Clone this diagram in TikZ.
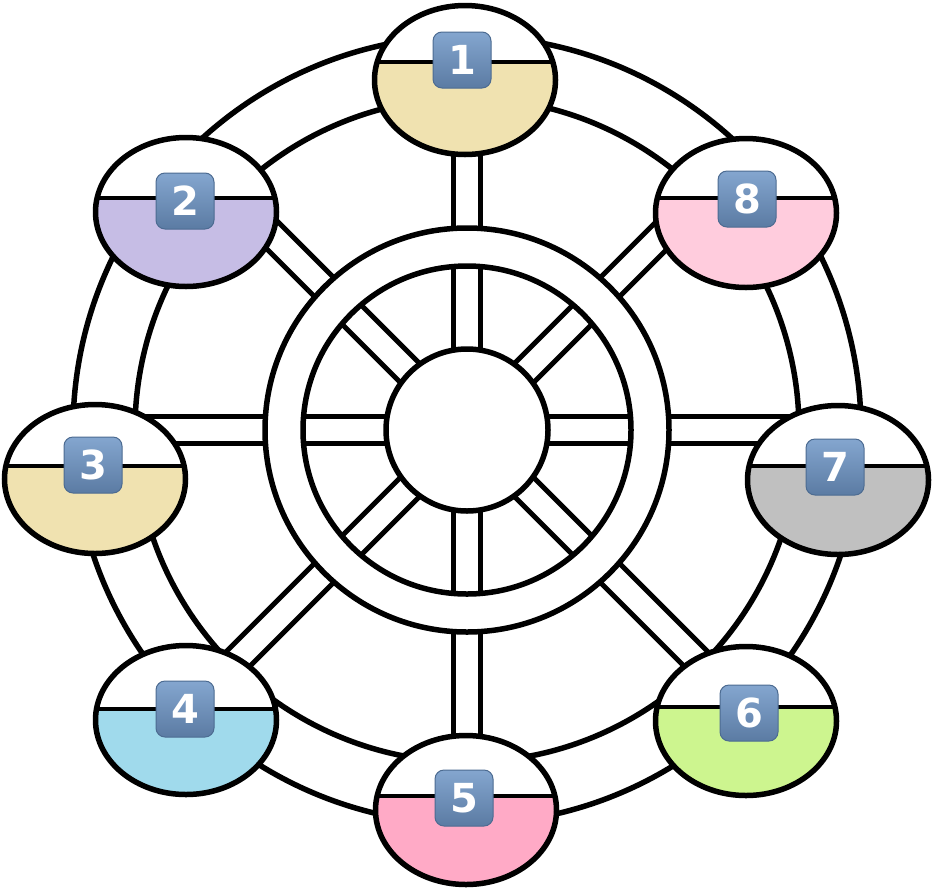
\documentclass[tikz,border=0pt]{standalone}
\usepackage{fontspec}
\setmainfont{DejaVu Sans}
\usetikzlibrary{shapes.geometric,calc}
\definecolor{cbeige}{HTML}{F0E2B0}
\definecolor{clav}{HTML}{C6BDE5}
\definecolor{cblue}{HTML}{A0DAEC}
\definecolor{cpink}{HTML}{FFAAC6}
\definecolor{cgreen}{HTML}{CDF58F}
\definecolor{cgray}{HTML}{C0C0C0}
\definecolor{clpink}{HTML}{FFCCDD}
\definecolor{btop}{HTML}{84A6CF}
\definecolor{bbot}{HTML}{5B7BA3}
\definecolor{bedge}{HTML}{4C6B91}
\tikzset{
  ringline/.style={line width=5.5pt},
  spokeline/.style={line width=5pt},
  cabin/.style 2 args={ellipse, draw, line width=5.5pt, fill=white,
    minimum width=181pt, minimum height=149pt, inner sep=0pt,
    path picture={
      \fill[#1] ($(path picture bounding box.center)+(-110,-#2)$) rectangle ($(path picture bounding box.center)+(110,110)$);
      \draw[line width=4.5pt] ($(path picture bounding box.center)+(-110,-#2)$) -- ($(path picture bounding box.center)+(110,-#2)$);
    }},
  badge/.style={rectangle, rounded corners=9pt, minimum width=58pt, minimum height=56pt,
    inner sep=0pt, top color=btop, bottom color=bbot, draw=bedge, line width=1pt,
    text=white, font=\bfseries\fontsize{40}{40}\selectfont}
}
\begin{document}
\begin{tikzpicture}[x=1pt,y=-1pt]
\useasboundingbox (0,0) rectangle (936,892);
\coordinate (C) at (467,430);
% rings
\draw[ringline] (C) circle[radius=394];
\draw[ringline] (C) circle[radius=332];
\draw[ringline] (C) circle[radius=202];
\draw[ringline] (C) circle[radius=164];
\node[circle, draw, line width=5.5pt, minimum size=162pt, inner sep=0pt] (hub) at (C) {};
% spokes
\foreach \a in {0,45,...,315} {
  \begin{scope}[shift={(C)}, rotate=\a]
    \draw[spokeline] (79.5,-13.5) -- (163.5,-13.5);
    \draw[spokeline] (79.5,13.5) -- (163.5,13.5);
    \draw[spokeline] (201.5,-13.5) -- (331.7,-13.5);
    \draw[spokeline] (201.5,13.5) -- (331.7,13.5);
  \end{scope}
}
% cabins
\node[cabin={cbeige}{18}] (cab1) at (465,80) {};
\node[cabin={clav}{14}] (cab2) at (186,212) {};
\node[cabin={cbeige}{13}] (cab3) at (95,479) {};
\node[cabin={cblue}{11}] (cab4) at (186,720) {};
\node[cabin={cpink}{14}] (cab5) at (466,810) {};
\node[cabin={cgreen}{14}] (cab6) at (746,721) {};
\node[cabin={cgray}{14}] (cab7) at (838,480) {};
\node[cabin={clpink}{15}] (cab8) at (746,213) {};
% badges
\node[badge] (b1) at (462,60) {1};
\node[badge] (b2) at (185,201) {2};
\node[badge] (b3) at (93,465) {3};
\node[badge] (b4) at (185,709) {4};
\node[badge] (b5) at (464,798) {5};
\node[badge] (b6) at (749,713) {6};
\node[badge] (b7) at (835,467) {7};
\node[badge] (b8) at (747,199) {8};
\end{tikzpicture}
\end{document}
